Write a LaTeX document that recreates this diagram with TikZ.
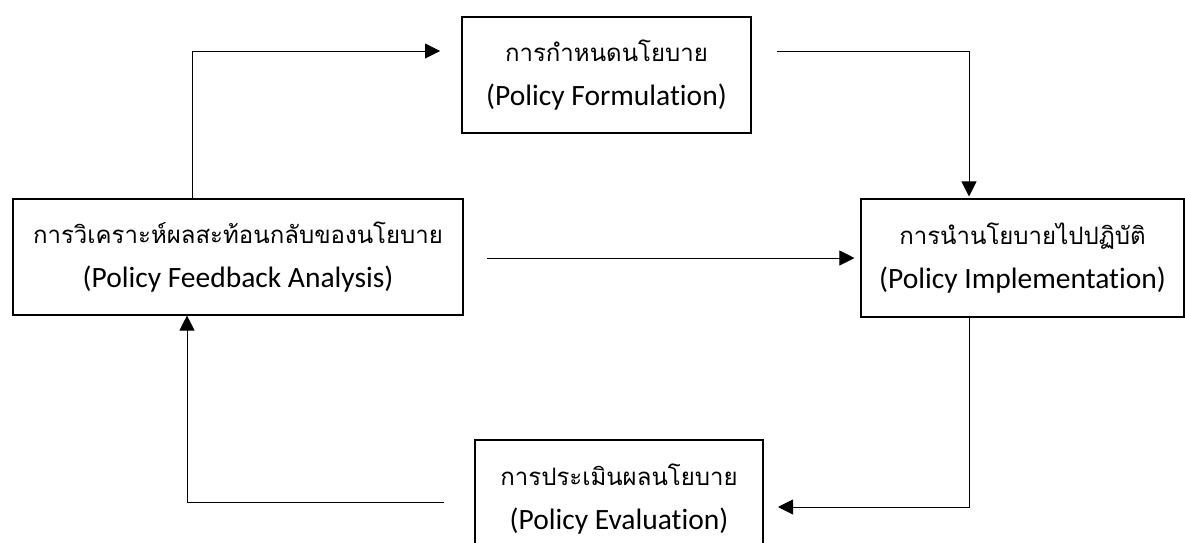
\documentclass[tikz,border=0pt]{standalone}
\usepackage{fontspec}
\setmainfont[Ligatures=NoCommon]{Carlito}
\newfontfamily\thaifont[Script=Thai]{Loma}
\usetikzlibrary{arrows.meta}

\newcommand{\thline}[1]{{\thaifont\fontsize{24}{44}\selectfont #1}}

\begin{document}
\begin{tikzpicture}[x=1pt,y=1pt,
    stagebox/.style={draw,line width=1.1pt,align=center,inner sep=0pt,
        font=\fontsize{29.5}{44}\selectfont},
    link/.style={-{Triangle[length=15pt,width=15pt]},line width=0.8pt}]
        \useasboundingbox[fill=white] (0,0) rectangle (1185,542);

        % the four stages
        \node[stagebox,minimum width=289pt,minimum height=116pt] (form) at (606.5,467)
            {\thline{การกำหนดนโยบาย}\\(Policy Formulation)};
        \node[stagebox,minimum width=450pt,minimum height=116pt] (feedback) at (238,285)
            {\thline{การวิเคราะห์ผลสะท้อนกลับของนโยบาย}\\(Policy Feedback Analysis)};
        \node[stagebox,minimum width=323pt,minimum height=118pt] (impl) at (1022.5,284)
            {\thline{การนำนโยบายไปปฏิบัติ}\\(Policy Implementation)};
        \node[stagebox,minimum width=288pt,minimum height=118pt] (eval) at (619,43)
            {\thline{การประเมินผลนโยบาย}\\(Policy Evaluation)};

        \coordinate (formin) at (440,491);
        \coordinate (formout) at (777,491);
        \coordinate (fbout) at (487,284);
        \coordinate (evalin) at (778,35);
        \coordinate (evalout) at (444,40);

        \draw[link] ([xshift=-46pt]feedback.north) |- (formin);
        \draw[link,shorten >=2pt] (formout) -| ([xshift=-53.5pt]impl.north);
        \draw[link,shorten >=6pt] (fbout) -- (fbout -| impl.west);
        \draw[link] ([xshift=-53.5pt]impl.south) |- (evalin);
        \draw[link] (evalout) -| ([xshift=-51pt]feedback.south);

    \end{tikzpicture}
\end{document}
